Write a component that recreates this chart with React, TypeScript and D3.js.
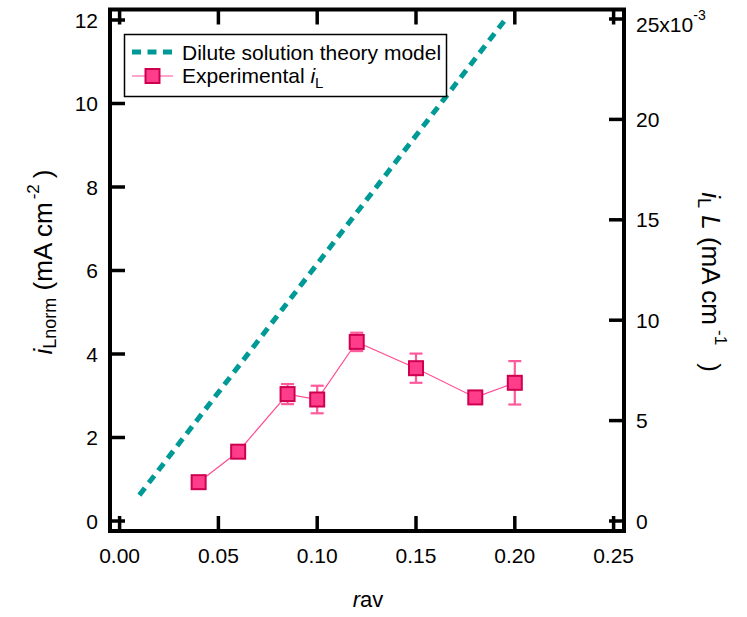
import React from "react";
import * as d3 from "d3";

const rav = [0.04, 0.06, 0.085, 0.1, 0.12, 0.15, 0.18, 0.2];
const iLnorm = [0.93, 1.66, 3.04, 2.91, 4.29, 3.66, 2.96, 3.31];
const iLnormErr = [0.1, 0.1, 0.24, 0.33, 0.22, 0.35, 0.1, 0.52];
const theoryR = [0.01, 0.195];
const theoryI = [0.62, 12.0];
const xTicks = [0, 0.05, 0.1, 0.15, 0.2, 0.25];
const yLeftTicks = [0, 2, 4, 6, 8, 10, 12];
const yRightTicks = [0, 0.005, 0.01, 0.015, 0.02, 0.025];
const yRightLabels = ["0", "5", "10", "15", "20", "25x10"];

const FONT = "'Liberation Sans', Arial, Helvetica, sans-serif";

export default function App() {
  const W = 747, H = 617;
  const x = d3.scaleLinear().domain([0, 0.25]).range([119.6, 613.6]);
  const yL = d3.scaleLinear().domain([0, 12]).range([521, 20]);
  const yR = d3.scaleLinear().domain([0, 0.025]).range([521, 19]);
  const frame = { l: 110, r: 624, t: 9.5, b: 531 };
  const tl = 15;
  const teal = "#009a96";
  const pink = "#ff4d94";
  const line = d3.line<number>().x((d, i) => x(rav[i])).y((d) => yL(d));
  const theory = theoryR.map((r, i) => [x(r), yL(theoryI[i])] as [number, number]);
  const ms = 14;
  const nR = yRightTicks.length;
  return (
    <svg width={W} height={H} style={{ position: "absolute", left: 0, top: 0, background: "#fff" }} fontFamily={FONT}>
      {/* theory line */}
      <path d={d3.line()(theory) || ""} stroke={teal} strokeWidth={5} strokeDasharray="9 6.5" fill="none" />
      {/* experimental */}
      <path d={line(iLnorm) || ""} stroke={pink} strokeWidth={1.2} fill="none" />
      {rav.map((r, i) => {
        const cx = x(r);
        const t = yL(iLnorm[i] + iLnormErr[i]);
        const b = yL(iLnorm[i] - iLnormErr[i]);
        return (
          <g key={"e" + i} stroke="#ff5a9c" strokeWidth={2.2}>
            <line x1={cx} x2={cx} y1={t} y2={b} />
            <line x1={cx - 6.5} x2={cx + 6.5} y1={t} y2={t} />
            <line x1={cx - 6.5} x2={cx + 6.5} y1={b} y2={b} />
          </g>
        );
      })}
      {rav.map((r, i) => (
        <rect key={"m" + i} x={x(r) - ms / 2} y={yL(iLnorm[i]) - ms / 2} width={ms} height={ms}
          fill="#ff3d8b" stroke="#cf0050" strokeWidth={2} />
      ))}
      {/* frame */}
      <rect x={frame.l} y={frame.t} width={frame.r - frame.l} height={frame.b - frame.t} fill="none" stroke="#000" strokeWidth={4} />
      {/* x ticks bottom & top */}
      {xTicks.map((v) => (
        <g key={"x" + v} stroke="#000" strokeWidth={3.5}>
          <line x1={x(v)} x2={x(v)} y1={frame.b} y2={frame.b - tl} />
          <line x1={x(v)} x2={x(v)} y1={frame.t} y2={frame.t + tl} />
        </g>
      ))}
      {xTicks.map((v) => (
        <text key={"xl" + v} x={x(v)} y={563} textAnchor="middle" fontSize={21}>{d3.format(".2f")(v)}</text>
      ))}
      {yLeftTicks.map((v) => (
        <g key={"yl" + v}>
          <line x1={frame.l} x2={frame.l + tl} y1={yL(v)} y2={yL(v)} stroke="#000" strokeWidth={3.5} />
          <text x={98} y={yL(v) + 7.5} textAnchor="end" fontSize={21}>{v}</text>
        </g>
      ))}
      {yRightTicks.map((v, i) => (
        <g key={"yr" + v}>
          <line x1={frame.r} x2={frame.r - tl} y1={yR(v)} y2={yR(v)} stroke="#000" strokeWidth={3.5} />
          <text x={636} y={i === nR - 1 ? yR(v) + 13 : yR(v) + 7.5} fontSize={21}>
            {yRightLabels[i]}
            {i === nR - 1 ? <tspan fontSize={14} dy={-12}>-3</tspan> : null}
          </text>
        </g>
      ))}
      {/* axis titles */}
      <text x={368} y={607} textAnchor="middle" fontSize={22}>
        <tspan fontStyle="italic">r</tspan><tspan>av</tspan>
      </text>
      <text transform="translate(52,262) rotate(-90)" textAnchor="middle" fontSize={26}>
        <tspan fontStyle="italic">i</tspan>
        <tspan fontSize={18} dy={4}>Lnorm</tspan>
        <tspan dy={-4}> (mA cm</tspan>
        <tspan fontSize={17} dy={-13} dx={3}>-2</tspan>
        <tspan dy={13} dx={6}>)</tspan>
      </text>
      <text transform="translate(702,282) rotate(90)" textAnchor="middle" fontSize={26}>
        <tspan fontStyle="italic">i</tspan>
        <tspan fontSize={18} dy={4}>L</tspan>
        <tspan dy={-4} fontStyle="italic"> L</tspan>
        <tspan> (mA cm</tspan>
        <tspan fontSize={17} dy={-13} dx={5}>-1</tspan>
        <tspan dy={13} dx={18}>)</tspan>
      </text>
      {/* legend */}
      <rect x={124.5} y={34.5} width={322} height={62} fill="#fff" stroke="#000" strokeWidth={1.5} />
      <line x1={132} x2={173} y1={52} y2={52} stroke={teal} strokeWidth={5} strokeDasharray="9 6.5" />
      <text x={182} y={59.5} fontSize={21}>Dilute solution theory model</text>
      <line x1={132} x2={173} y1={76} y2={76} stroke={pink} strokeWidth={1.2} />
      <rect x={152.5 - ms / 2} y={76 - ms / 2} width={ms} height={ms} fill="#ff3d8b" stroke="#cf0050" strokeWidth={2} />
      <text x={182} y={82.5} fontSize={21}>
        Experimental <tspan fontStyle="italic">i</tspan><tspan fontSize={15} dy={5}>L</tspan>
      </text>
    </svg>
  );
}
